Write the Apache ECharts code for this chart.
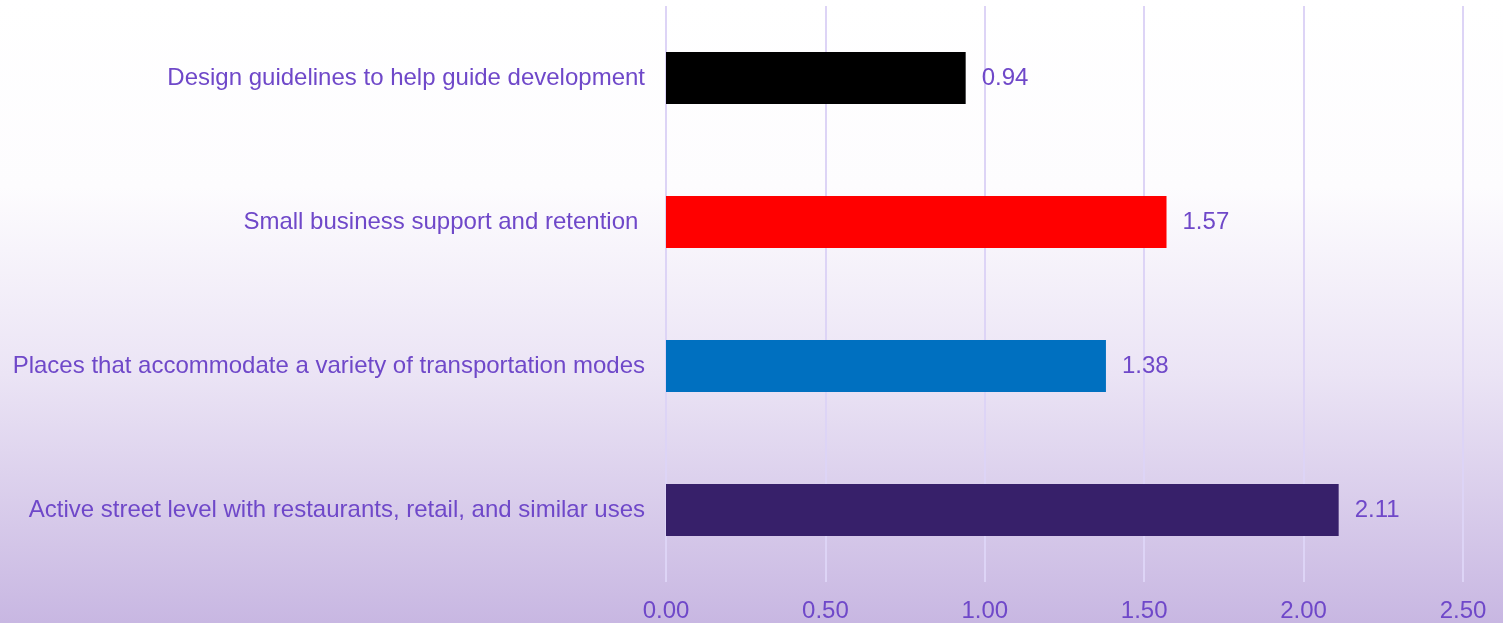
<!DOCTYPE html>
<html>
<head>
<meta charset="utf-8">
<script src="https://cdn.jsdelivr.net/npm/echarts@6/dist/echarts.min.js"></script>
<style>
  html, body { margin: 0; padding: 0; }
  #chart { width: 1503px; height: 623px; }
</style>
</head>
<body>
<div id="chart"></div>
<script>
// Priorities, listed top to bottom
const categories = [
  'Design guidelines to help guide development',
  'Small business support and retention ',
  'Places that accommodate a variety of transportation modes',
  'Active street level with restaurants, retail, and similar uses'
];
const scores = [0.94, 1.57, 1.38, 2.11];
const barColors = ['#000000', '#ff0000', '#0070c0', '#37206a'];
const tickLabels = ['0.00', '0.50', '1.00', '1.50', '2.00', '2.50'];

const textColor = '#6f48c9';
const font = "'Liberation Sans', Arial, sans-serif";
const fontSize = 24;

const chart = echarts.init(document.getElementById('chart'));
chart.setOption({
  backgroundColor: {
    type: 'linear', x: 0, y: 0, x2: 0, y2: 1,
    colorStops: [
      { offset: 0, color: '#ffffff' },
      { offset: 0.3, color: '#fdfcfe' },
      { offset: 0.6, color: '#ebe4f5' },
      { offset: 1, color: '#c8b7e2' }
    ]
  },
  animation: false,
  grid: { left: 666, right: 40, top: 6, bottom: 41 },
  xAxis: {
    type: 'value',
    min: 0,
    max: 2.5,
    interval: 0.5,
    axisLine: { show: false },
    axisTick: { show: false },
    splitLine: { lineStyle: { color: '#ddd4f6', width: 2 } },
    axisLabel: {
      color: textColor, fontFamily: font, fontSize: fontSize, margin: 17,
      formatter: (v) => tickLabels[Math.round(v / 0.5)]
    }
  },
  yAxis: {
    type: 'category',
    inverse: true,
    data: categories,
    axisLine: { show: false },
    axisTick: { show: false },
    axisLabel: { color: textColor, fontFamily: font, fontSize: fontSize, margin: 21 }
  },
  series: [{
    type: 'bar',
    data: scores.map((v, i) => ({ value: v, itemStyle: { color: barColors[i] } })),
    barWidth: 52,
    label: {
      show: true,
      position: 'right',
      distance: 16,
      color: textColor,
      fontFamily: font,
      fontSize: fontSize,
      formatter: (p) => p.value.toFixed(2)
    }
  }]
});
</script>
</body>
</html>
